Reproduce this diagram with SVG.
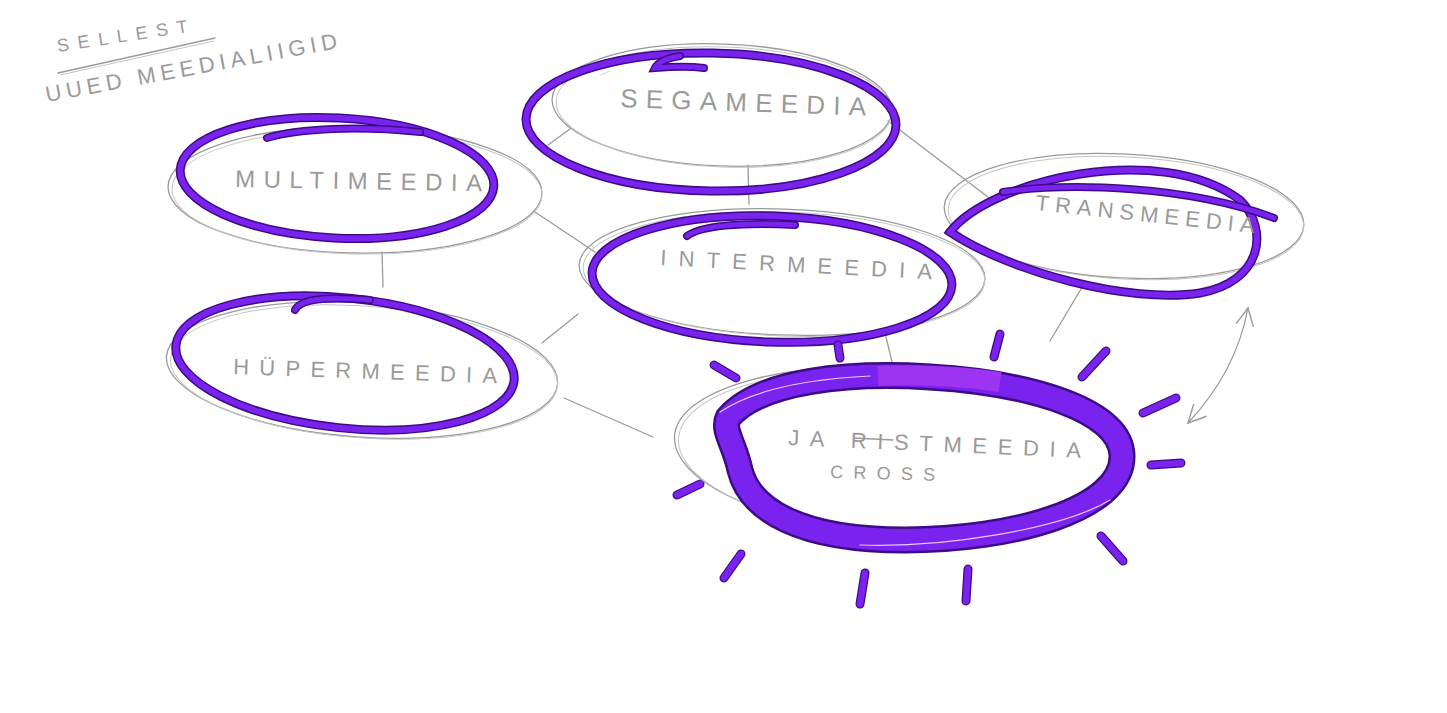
<svg xmlns="http://www.w3.org/2000/svg" width="1447" height="713" viewBox="0 0 1447 713">
<defs>
<style>
.lbl{font-family:"Liberation Sans","DejaVu Sans",sans-serif;fill:#9a9a9a;font-weight:normal}
.gray{fill:none;stroke:#9a9a9a;stroke-width:1.3}
.gray2{fill:none;stroke:#c4c4c4;stroke-width:1}
.pdark{fill:none;stroke:#3b0c86;stroke-linecap:round}
.pur{fill:none;stroke:#7a22ee;stroke-linecap:round}
.hl{fill:none;stroke:#e8c8ff;stroke-width:1.2;stroke-linecap:round}
.con{fill:none;stroke:#9a9a9a;stroke-width:1.3;stroke-linecap:round}
.ray{fill:none;stroke:#3b0c86;stroke-width:9;stroke-linecap:round}
.ray2{fill:none;stroke:#7a22ee;stroke-width:6.5;stroke-linecap:round}
</style>
<marker id="ah" viewBox="0 0 20 20" refX="18" refY="10" markerWidth="22" markerHeight="22" markerUnits="userSpaceOnUse" orient="auto-start-reverse">
<path d="M2,2 L18,10 L2,18" fill="none" stroke="#9a9a9a" stroke-width="1.3"/>
</marker>
</defs>
<rect width="1447" height="713" fill="#fff"/>

<g id="title">
<text class="lbl" x="58" y="52" font-size="18" textLength="132" lengthAdjust="spacing" transform="rotate(-8.7 58 52)">SELLEST</text>
<path class="con" d="M58,73 L215,38"/>
<path class="gray2" d="M60,75 L214,41"/>
<text class="lbl" x="47" y="102" font-size="22" textLength="296" lengthAdjust="spacing" transform="rotate(-10.5 47 102)">UUED MEEDIALIIGID</text>
</g>

<g id="connectors">
<path class="con" d="M548,145 L570,129"/>
<path class="con" d="M748,165 L749,204"/>
<path class="con" d="M888,121 L988,197"/>
<path class="con" d="M535,212 L595,252"/>
<path class="con" d="M382,252 L383,287"/>
<path class="con" d="M542,343 L578,314"/>
<path class="con" d="M564,398 L653,437"/>
<path class="con" d="M886,337 L893,366"/>
<path class="con" d="M1084,284 L1050,341"/>
<path class="con" d="M1248,308 Q1236,372 1188,423" marker-start="url(#ah)" marker-end="url(#ah)"/>
</g>

<g id="node-segameedia">
<ellipse class="gray" cx="722" cy="105" rx="170" ry="61" transform="rotate(2 722 105)"/>
<ellipse class="gray2" cx="724" cy="107" rx="168" ry="60" transform="rotate(2 724 107)"/>
<ellipse class="pdark" stroke-width="9" cx="711" cy="122" rx="185" ry="69" transform="rotate(1 711 122)"/>
<ellipse class="pur" stroke-width="6" cx="711" cy="122" rx="185" ry="69" transform="rotate(1 711 122)"/>
<path class="pdark" stroke-width="8" d="M704,68 C688,66 668,67 655,68 C658,62 668,58 680,56"/>
<path class="pur" stroke-width="5" d="M704,68 C688,66 668,67 655,68 C658,62 668,58 680,56"/>
<path class="hl" d="M600,75 L610,71"/>
<text class="lbl" x="620" y="107" font-size="26" textLength="246" lengthAdjust="spacing" transform="rotate(2 620 107)">SEGAMEEDIA</text>
</g>

<g id="node-multimeedia">
<ellipse class="gray" cx="355" cy="190" rx="187" ry="63" transform="rotate(1 355 190)"/>
<ellipse class="gray2" cx="357" cy="192" rx="185" ry="62" transform="rotate(1 357 192)"/>
<ellipse class="pdark" stroke-width="9" cx="337" cy="178" rx="157" ry="60" transform="rotate(3 337 178)"/>
<ellipse class="pur" stroke-width="6" cx="337" cy="178" rx="157" ry="60" transform="rotate(3 337 178)"/>
<path class="pdark" stroke-width="8" d="M267,138 C300,128 360,126 420,132"/>
<path class="pur" stroke-width="5" d="M267,138 C300,128 360,126 420,132"/>
<text class="lbl" x="235" y="187" font-size="24" textLength="247" lengthAdjust="spacing" transform="rotate(1 235 187)">MULTIMEEDIA</text>
</g>

<g id="node-hupermeedia">
<ellipse class="gray" cx="362" cy="370" rx="196" ry="67" transform="rotate(4 362 370)"/>
<ellipse class="gray2" cx="364" cy="372" rx="194" ry="66" transform="rotate(4 364 372)"/>
<ellipse class="pdark" stroke-width="9" cx="345" cy="363" rx="170" ry="65" transform="rotate(6 345 363)"/>
<ellipse class="pur" stroke-width="6" cx="345" cy="363" rx="170" ry="65" transform="rotate(6 345 363)"/>
<path class="pdark" stroke-width="8" d="M295,310 C300,300 320,296 370,300"/>
<path class="pur" stroke-width="5" d="M295,310 C300,300 320,296 370,300"/>
<text class="lbl" x="233" y="374" font-size="22" textLength="264" lengthAdjust="spacing" transform="rotate(2 233 374)">HÜPERMEEDIA</text>
</g>

<g id="node-intermeedia">
<ellipse class="gray" cx="782" cy="272" rx="203" ry="63" transform="rotate(2 782 272)"/>
<ellipse class="gray2" cx="784" cy="274" rx="201" ry="62" transform="rotate(2 784 274)"/>
<ellipse class="pdark" stroke-width="9" cx="772" cy="279" rx="180" ry="63" transform="rotate(2 772 279)"/>
<ellipse class="pur" stroke-width="6" cx="772" cy="279" rx="180" ry="63" transform="rotate(2 772 279)"/>
<path class="pdark" stroke-width="8" d="M687,236 C700,226 740,222 795,225"/>
<path class="pur" stroke-width="5" d="M687,236 C700,226 740,222 795,225"/>
<text class="lbl" x="660" y="265" font-size="22" textLength="272" lengthAdjust="spacing" transform="rotate(3 660 265)">INTERMEEDIA</text>
</g>

<g id="node-transmeedia">
<ellipse class="gray" cx="1124" cy="216" rx="180" ry="62" transform="rotate(3 1124 216)"/>
<ellipse class="gray2" cx="1126" cy="218" rx="178" ry="61" transform="rotate(3 1126 218)"/>
<path class="pdark" stroke-width="9" d="M950,232 C990,180 1160,140 1240,200 C1270,230 1262,282 1200,293 C1130,304 1010,272 950,232 Z"/>
<path class="pur" stroke-width="6" d="M950,232 C990,180 1160,140 1240,200 C1270,230 1262,282 1200,293 C1130,304 1010,272 950,232 Z"/>
<path class="pdark" stroke-width="8" d="M1003,192 C1070,182 1190,186 1274,218"/>
<path class="pur" stroke-width="5" d="M1003,192 C1070,182 1190,186 1274,218"/>
<text class="lbl" x="1035" y="210" font-size="22" textLength="220" lengthAdjust="spacing" transform="rotate(6 1035 210)">TRANSMEEDIA</text>
</g>

<g id="node-ristmeedia">
<g id="rays">
<path class="ray" d="M838,345 L840,358"/><path class="ray2" d="M838,345 L840,358"/>
<path class="ray" d="M1000,334 L994,357"/><path class="ray2" d="M1000,334 L994,357"/>
<path class="ray" d="M1106,351 L1082,377"/><path class="ray2" d="M1106,351 L1082,377"/>
<path class="ray" d="M1176,398 L1143,413"/><path class="ray2" d="M1176,398 L1143,413"/>
<path class="ray" d="M1151,465 L1181,463"/><path class="ray2" d="M1151,465 L1181,463"/>
<path class="ray" d="M1101,536 L1123,561"/><path class="ray2" d="M1101,536 L1123,561"/>
<path class="ray" d="M968,569 L966,601"/><path class="ray2" d="M968,569 L966,601"/>
<path class="ray" d="M865,573 L860,604"/><path class="ray2" d="M865,573 L860,604"/>
<path class="ray" d="M741,554 L724,578"/><path class="ray2" d="M741,554 L724,578"/>
<path class="ray" d="M700,484 L677,495"/><path class="ray2" d="M700,484 L677,495"/>
<path class="ray" d="M714,365 L736,378"/><path class="ray2" d="M714,365 L736,378"/>
</g>
<ellipse class="gray" cx="902" cy="452" rx="228" ry="84" transform="rotate(4 902 452)"/>
<ellipse class="gray2" cx="904" cy="454" rx="226" ry="83" transform="rotate(4 904 454)"/>
<path class="pdark" stroke-width="27" d="M728,418 C760,380 850,372 930,377 C1030,383 1120,410 1122,455 C1124,510 1010,540 905,540 C800,540 750,510 740,470 C735,445 722,430 728,418 Z"/>
<path class="pur" stroke-width="22" d="M728,418 C760,380 850,372 930,377 C1030,383 1120,410 1122,455 C1124,510 1010,540 905,540 C800,540 750,510 740,470 C735,445 722,430 728,418 Z"/>
<path fill="none" stroke="#9c34f2" stroke-width="20" d="M878,376 C920,374 960,376 1000,382"/>
<path class="hl" d="M720,412 C760,385 830,378 870,376"/>
<path class="hl" d="M860,545 C940,548 1060,530 1110,500"/>
<text class="lbl" x="788" y="445" font-size="22" textLength="293" lengthAdjust="spacing" transform="rotate(2.5 788 445)">JA RISTMEEDIA</text>
<path class="con" d="M853,438 L893,440"/>
<text class="lbl" x="830" y="478" font-size="18" textLength="105" lengthAdjust="spacing" transform="rotate(1.5 830 478)">CROSS</text>
</g>
</svg>
